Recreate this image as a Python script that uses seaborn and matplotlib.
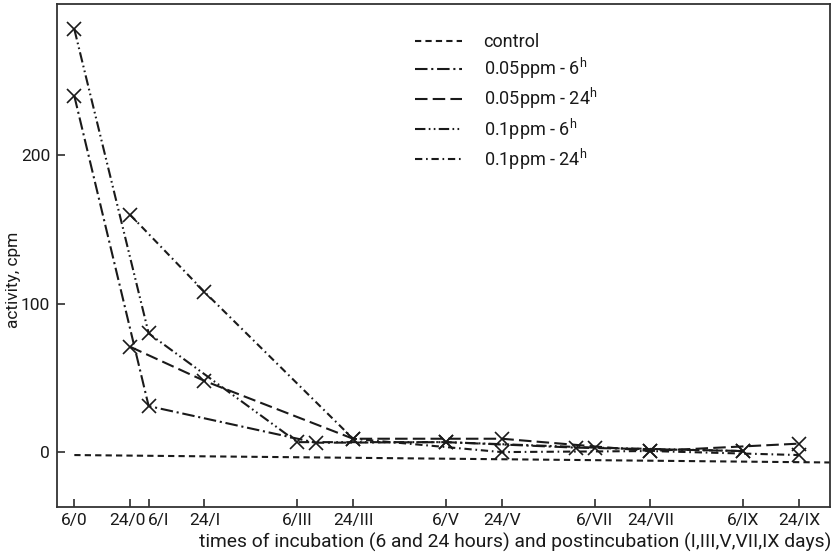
import numpy as np
import pandas as pd
import matplotlib
matplotlib.use("Agg")
import matplotlib.pyplot as plt
import matplotlib.transforms as mtransforms
from matplotlib.lines import Line2D
import seaborn as sns

# ---- data (hours since start of incubation; values in cpm) ----
tick_hours = [6, 24, 30, 48, 78, 96, 126, 144, 174, 192, 222, 240]
tick_labels = ["6/0", "24/0", "6/I", "24/I", "6/III", "24/III",
               "6/V", "24/V", "6/VII", "24/VII", "6/IX", "24/IX"]

control_hours = [6, 250]
control_values = [-2, -7]

s005_6_hours = [6, 30, 84, 126, 168, 222]
s005_6_values = [240, 31, 6.3, 6.7, 3, 0.7]

s005_24_hours = [24, 48, 96, 144, 192, 240]
s005_24_values = [71, 48, 9, 9, 0.7, 5.7]

s01_6_hours = [6, 30, 78, 126, 174, 222]
s01_6_values = [285, 80, 6.7, 6.7, 3, 0.7]

s01_24_hours = [24, 48, 96, 144, 192, 240]
s01_24_values = [160, 108, 9, 0, 0.7, -2]

series_names = ["0.05ppm - 6$^{h}$", "0.05ppm - 24$^{h}$",
                "0.1ppm - 6$^{h}$", "0.1ppm - 24$^{h}$"]

frames = []
for name, hrs, vals in zip(series_names,
                           [s005_6_hours, s005_24_hours, s01_6_hours, s01_24_hours],
                           [s005_6_values, s005_24_values, s01_6_values, s01_24_values]):
    frames.append(pd.DataFrame({"hours": hrs, "cpm": vals, "series": name}))
df = pd.concat(frames, ignore_index=True)
df_control = pd.DataFrame({"hours": control_hours, "cpm": control_values})

# ---- styling ----
sns.set_style("ticks")
plt.rcParams["font.family"] = ["Roboto", "DejaVu Sans"]
plt.rcParams["mathtext.fontset"] = "custom"
plt.rcParams["mathtext.rm"] = "Roboto"
plt.rcParams["mathtext.default"] = "regular"

ink = "#1a1a1a"
lw = 1.5
dash_map = {
    series_names[0]: (6, 1.8, 1, 1.8),
    series_names[1]: (6, 2.5),
    series_names[2]: (5, 1.6, 0.8, 1.6, 0.8, 1.6),
    series_names[3]: (3.5, 1.8, 0.8, 1.8),
}
control_dash = (3, 2)

fig = plt.figure(figsize=(8.38, 5.57), dpi=100)
ax = fig.add_axes([0.068, 0.0898, 0.9225, 0.903])

sns.lineplot(data=df_control, x="hours", y="cpm", ax=ax, color=ink,
             linewidth=lw, estimator=None, legend=False)
ax.lines[-1].set_dashes(control_dash)

sns.lineplot(data=df, x="hours", y="cpm", style="series", ax=ax,
             color=ink, linewidth=lw, dashes=dash_map,
             markers={n: "x" for n in series_names}, markersize=9.5,
             markeredgewidth=1.2, markeredgecolor=ink,
             estimator=None, sort=False, legend=False)

ax.set_xlim(0.4, 250)
ax.set_ylim(-37, 302)
ax.set_xticks(tick_hours)
ax.set_xticklabels(tick_labels)
ax.set_yticks([0, 100, 200])
ax.tick_params(axis="both", direction="in", length=6, width=1.1, color=ink,
               labelcolor=ink)
ax.tick_params(axis="x", pad=4, labelsize=12.5)
ax.tick_params(axis="y", pad=5, labelsize=12.5)
for sp in ax.spines.values():
    sp.set_visible(True)
    sp.set_linewidth(1.3)
    sp.set_color("#333333")

# small nudge of crowded labels, as in the reference
offsets = {"24/0": -3, "6/I": 10}
for lab in ax.get_xticklabels():
    dx = offsets.get(lab.get_text(), 0)
    if dx:
        lab.set_transform(lab.get_transform() +
                          mtransforms.ScaledTranslation(dx / 100, 0, fig.dpi_scale_trans))

ax.set_xlabel("times of incubation (6 and 24 hours) and postincubation (I,III,V,VII,IX days)",
              fontsize=13.9, color=ink)
ax.xaxis.set_label_coords(0.5925, -0.07)
ax.xaxis.label.set_va("center")
ax.set_ylabel("activity, cpm", fontsize=12.5, color=ink)
ax.yaxis.set_label_coords(-0.056, 0.451)
ax.yaxis.label.set_va("center")

handles = [Line2D([], [], color=ink, lw=lw, dashes=control_dash)]
for n in series_names:
    handles.append(Line2D([], [], color=ink, lw=lw, dashes=dash_map[n]))
labels = ["control"] + series_names
ax.legend(handles, labels, loc="upper left", bbox_to_anchor=(0.442, 0.975),
          frameon=False, fontsize=13, handlelength=2.6, handletextpad=1.2,
          labelspacing=0.28, labelcolor=ink)

fig.savefig("out.png", dpi=100, facecolor="white")
